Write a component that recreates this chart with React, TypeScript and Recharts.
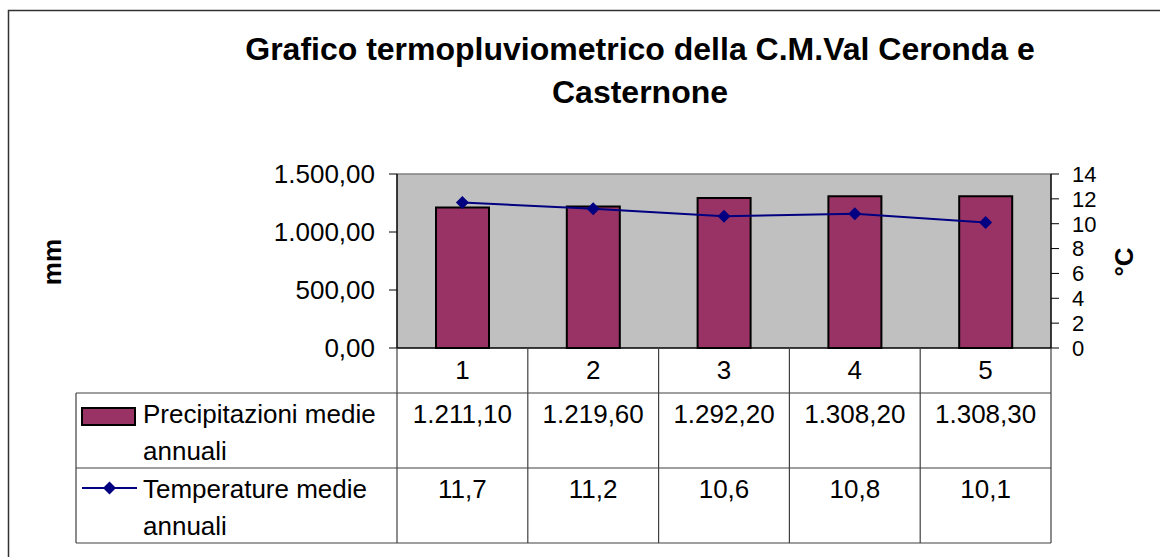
import { ComposedChart, Bar, Line, XAxis, YAxis, CartesianGrid, ReferenceLine } from 'recharts';

const categories = ['1', '2', '3', '4', '5'];
const precipitazioni = [1211.1, 1219.6, 1292.2, 1308.2, 1308.3];
const temperature = [11.7, 11.2, 10.6, 10.8, 10.1];
const mmTicks = [0, 500, 1000, 1500];
const cTicks = [0, 2, 4, 6, 8, 10, 12, 14];

const seriesNames = ['Precipitazioni medie', 'Temperature medie'];
const title = ['Grafico termopluviometrico della C.M.Val Ceronda e', 'Casternone'];

const data = categories.map((cat, i) => ({
  cat,
  prec: precipitazioni[i],
  temp: temperature[i],
}));

const FONT = '"Liberation Sans", Arial, sans-serif';
const FS = 26;
const W = 1160;
const H = 557;
const PLOT_L = 397;
const PLOT_R = 1051;
const PLOT_T = 174;
const PLOT_B = 348;
const TABLE_L = 76;
const ROW1 = 393;
const ROW2 = 468;
const ROW3 = 543;
const GRID = '#404040';

// 1308.3 -> "1.308,30"
function fmtIt(v: number, dec: number): string {
  const [int, frac] = v.toFixed(dec).split('.');
  const withDots = int.replace(/\B(?=(\d{3})+(?!\d))/g, '.');
  return frac ? `${withDots},${frac}` : withDots;
}

function TableTick(props: any) {
  const { x, payload } = props;
  const i = payload.index ?? props.index;
  const colW = (PLOT_R - PLOT_L) / categories.length;
  const right = x + colW / 2;
  return (
    <g fontFamily={FONT} fontSize={FS} fill="#000">
      <text x={x} y={379} textAnchor="middle">{payload.value}</text>
      <text x={x} y={423} textAnchor="middle">{fmtIt(precipitazioni[i], 2)}</text>
      <text x={x} y={498} textAnchor="middle">{fmtIt(temperature[i], 1)}</text>
      <line x1={right} x2={right} y1={PLOT_B} y2={ROW3} stroke={GRID} strokeWidth={1.2} />
    </g>
  );
}

function Diamond(props: any) {
  const { cx, cy } = props;
  if (cx == null || cy == null) return null;
  const r = 6.5;
  return (
    <polygon
      points={`${cx},${cy - r} ${cx + r},${cy} ${cx},${cy + r} ${cx - r},${cy}`}
      fill="#000080"
    />
  );
}

export default function App() {
  return (
    <div style={{ position: 'absolute', left: 0, top: 0, width: W, height: H, background: '#fff' }}>
      <ComposedChart
        width={W}
        height={H}
        data={data}
        margin={{ top: PLOT_T, right: 0, bottom: 0, left: 0 }}
      >
        <CartesianGrid horizontal={false} vertical={false} fill="#c0c0c0" yAxisId="mm" />
        <XAxis
          dataKey="cat"
          height={H - PLOT_B}
          interval={0}
          tickLine={false}
          axisLine={{ stroke: '#000', strokeWidth: 1.5 }}
          tick={<TableTick />}
        />
        <YAxis
          yAxisId="mm"
          orientation="left"
          width={PLOT_L}
          domain={[0, 1500]}
          ticks={mmTicks}
          interval={0}
          tickFormatter={(v: number) => fmtIt(v, 2)}
          tickSize={8}
          tickMargin={14}
          tick={{ fill: '#000', fontSize: FS, fontFamily: FONT }}
          tickLine={{ stroke: '#000' }}
          axisLine={{ stroke: '#000', strokeWidth: 1.5 }}
        />
        <YAxis
          yAxisId="t"
          orientation="right"
          width={W - PLOT_R}
          domain={[0, 14]}
          ticks={cTicks}
          interval={0}
          tickSize={8}
          tickMargin={13}
          tick={{ fill: '#000', fontSize: 22, fontFamily: FONT, textAnchor: 'start' }}
          tickLine={{ stroke: '#000' }}
          axisLine={{ stroke: '#000', strokeWidth: 1.5 }}
        />
        <ReferenceLine yAxisId="mm" y={1500} stroke="#808080" strokeWidth={1.5} />
        <Bar
          yAxisId="mm"
          dataKey="prec"
          barSize={53}
          fill="#993366"
          stroke="#000"
          strokeWidth={2}
          isAnimationActive={false}
        />
        <Line
          yAxisId="t"
          dataKey="temp"
          type="linear"
          stroke="#000080"
          strokeWidth={2}
          dot={<Diamond />}
          activeDot={false}
          isAnimationActive={false}
        />
      </ComposedChart>
      <svg
        width={W}
        height={H}
        style={{ position: 'absolute', left: 0, top: 0, pointerEvents: 'none' }}
        fontFamily={FONT}
      >
        <rect x={8.5} y={10.5} width={1300} height={700} fill="none" stroke="#333" strokeWidth={1.5} />
        <text x={640} y={60} textAnchor="middle" fontSize={32} fontWeight="bold">{title[0]}</text>
        <text x={640} y={103} textAnchor="middle" fontSize={32} fontWeight="bold">{title[1]}</text>
        <text
          x={0}
          y={0}
          transform="translate(61 262) rotate(-90)"
          textAnchor="middle"
          fontSize={FS}
          fontWeight="bold"
        >
          mm
        </text>
        <text
          x={0}
          y={0}
          transform="translate(1133 262) rotate(-90)"
          textAnchor="middle"
          fontSize={FS}
          fontWeight="bold"
        >
          °C
        </text>
        {/* data table frame */}
        <line x1={PLOT_L} x2={PLOT_L} y1={PLOT_B} y2={ROW3} stroke={GRID} strokeWidth={1.2} />
        <line x1={TABLE_L} x2={TABLE_L} y1={ROW1} y2={ROW3} stroke={GRID} strokeWidth={1.2} />
        {[ROW1, ROW2, ROW3].map((y) => (
          <line key={y} x1={TABLE_L} x2={PLOT_R} y1={y} y2={y} stroke={GRID} strokeWidth={1.2} />
        ))}
        {/* legend keys */}
        <rect x={82} y={408} width={53} height={17} fill="#993366" stroke="#000" strokeWidth={2} />
        <line x1={82} x2={137} y1={488} y2={488} stroke="#000080" strokeWidth={2} />
        <polygon points="109.5,481.5 116,488 109.5,494.5 103,488" fill="#000080" />
        <g fontSize={FS} fill="#000">
          <text x={143} y={423}>{seriesNames[0]}</text>
          <text x={143} y={460}>annuali</text>
          <text x={143} y={498}>{seriesNames[1]}</text>
          <text x={143} y={535}>annuali</text>
        </g>
      </svg>
    </div>
  );
}
